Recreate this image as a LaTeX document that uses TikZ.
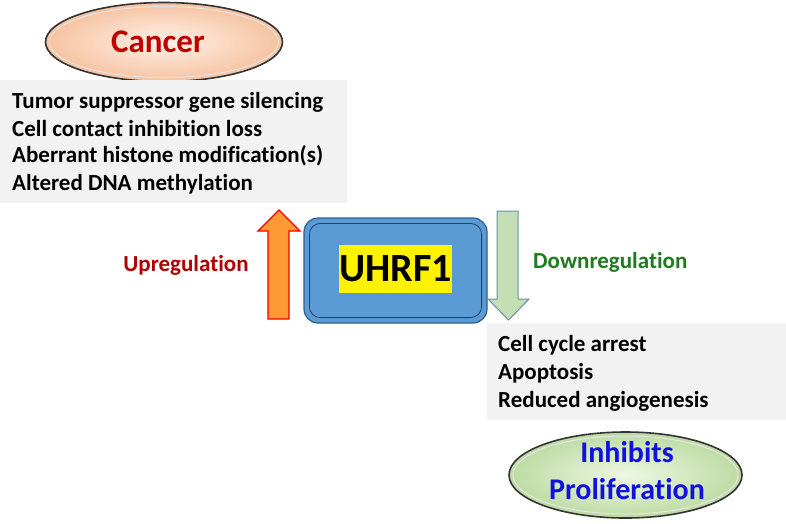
\documentclass[tikz,border=0pt]{standalone}
\usepackage{fontspec}
\setmainfont[Ligatures=NoCommon]{Carlito}
\usetikzlibrary{shapes.geometric}
\definecolor{cancerred}{HTML}{C00000}
\definecolor{peach}{HTML}{F6C2A0}
\definecolor{peachlight}{HTML}{FEF1E8}
\definecolor{greenfill}{HTML}{BCDBA3}
\definecolor{greenlight}{HTML}{EEF7E3}
\definecolor{boxgray}{HTML}{F2F2F2}
\definecolor{uhrfblue}{HTML}{5B9BD5}
\definecolor{uhrfedge}{HTML}{2E5F8F}
\definecolor{upred}{HTML}{B00000}
\definecolor{downgreen}{HTML}{1E7B1E}
\definecolor{arrowgreen}{HTML}{C5DFB4}
\definecolor{arrowedge}{HTML}{6C8EA8}
\definecolor{uporange}{HTML}{FF9933}
\definecolor{inhblue}{HTML}{1010E0}
\tikzset{
  x=1pt, y=-1pt,
  listtext/.style={anchor=west, font=\bfseries\fontsize{23}{26}\selectfont, inner sep=0pt},
  labeltext/.style={font=\bfseries\fontsize{23}{26}\selectfont, inner sep=0pt},
}
\begin{document}
\begin{tikzpicture}
\useasboundingbox (0,0) rectangle (786,523);
% Cancer ellipse
\node[ellipse, draw=black!80, line width=1.6pt, inner color=peachlight, outer color=peach,
      minimum width=237pt, minimum height=79pt] (cancer) at (164,42) {};
\node[ellipse, draw=white!80!gray, line width=1pt,
      minimum width=229pt, minimum height=71pt] (cancerin) at (164,42) {};
\node[font=\bfseries\fontsize{33}{36}\selectfont, text=cancerred] (cancert) at (158,42) {Cancer};
% top gray box
\fill[boxgray] (0,80) rectangle (347,203);
\node[listtext] (t1) at (12,102) {Tumor suppressor gene silencing};
\node[listtext] (t2) at (12,129) {Cell contact inhibition loss};
\node[listtext] (t3) at (12,156) {Aberrant histone modification(s)};
\node[listtext] (t4) at (12,184) {Altered DNA methylation};
% UHRF1 box
\node[rounded corners=14pt, fill=uhrfblue, draw=uhrfedge, line width=1.2pt,
      minimum width=183pt, minimum height=105pt] (uhrf) at (395.5,270.5) {};
\draw[rounded corners=11pt, draw=uhrfedge!70!black, line width=0.8pt]
  ([xshift=6pt,yshift=-6pt]uhrf.north west) rectangle ([xshift=-6pt,yshift=6pt]uhrf.south east);
\node[fill=yellow, inner sep=0pt, minimum width=113pt, minimum height=48pt,
      font=\bfseries\fontsize{40}{44}\selectfont] (uhrft) at (395.5,269) {UHRF1};
% up arrow
\coordinate (uptip) at (279,210);
\filldraw[draw=red!95!black, fill=uporange, line width=1.3pt, line join=miter]
  (268,319) -- (268,231) -- (258,231) -- (uptip) -- (300,231) -- (289,231) -- (289,319) -- cycle;
% down arrow
\coordinate (downtip) at (508.5,320);
\filldraw[draw=arrowedge, fill=arrowgreen, line width=1pt, line join=miter]
  (497,211) -- (518,211) -- (518,299) -- (529,299) -- (downtip) -- (488,299) -- (497,299) -- cycle;
% labels
\node[labeltext, text=upred] (uplab) at (186,265) {Upregulation};
\node[labeltext, text=downgreen, anchor=west] (downlab) at (533,262) {Downregulation};
% bottom gray box
\fill[boxgray] (487,323) rectangle (786,420);
\node[listtext] (b1) at (498,345) {Cell cycle arrest};
\node[listtext] (b2) at (498,373) {Apoptosis};
\node[listtext] (b3) at (498,401) {Reduced angiogenesis};
% Inhibits ellipse
\node[ellipse, draw=black!80, line width=1.6pt, inner color=greenlight, outer color=greenfill,
      minimum width=233pt, minimum height=86pt] (inhib) at (625.5,475) {};
\node[ellipse, draw=white!80!gray, line width=1pt,
      minimum width=225pt, minimum height=78pt] (inhibin) at (625.5,475) {};
\node[font=\bfseries\fontsize{30}{37}\selectfont, text=inhblue, align=center] (inhibt) at (627,471) {Inhibits\\Proliferation};
\end{tikzpicture}
\end{document}
